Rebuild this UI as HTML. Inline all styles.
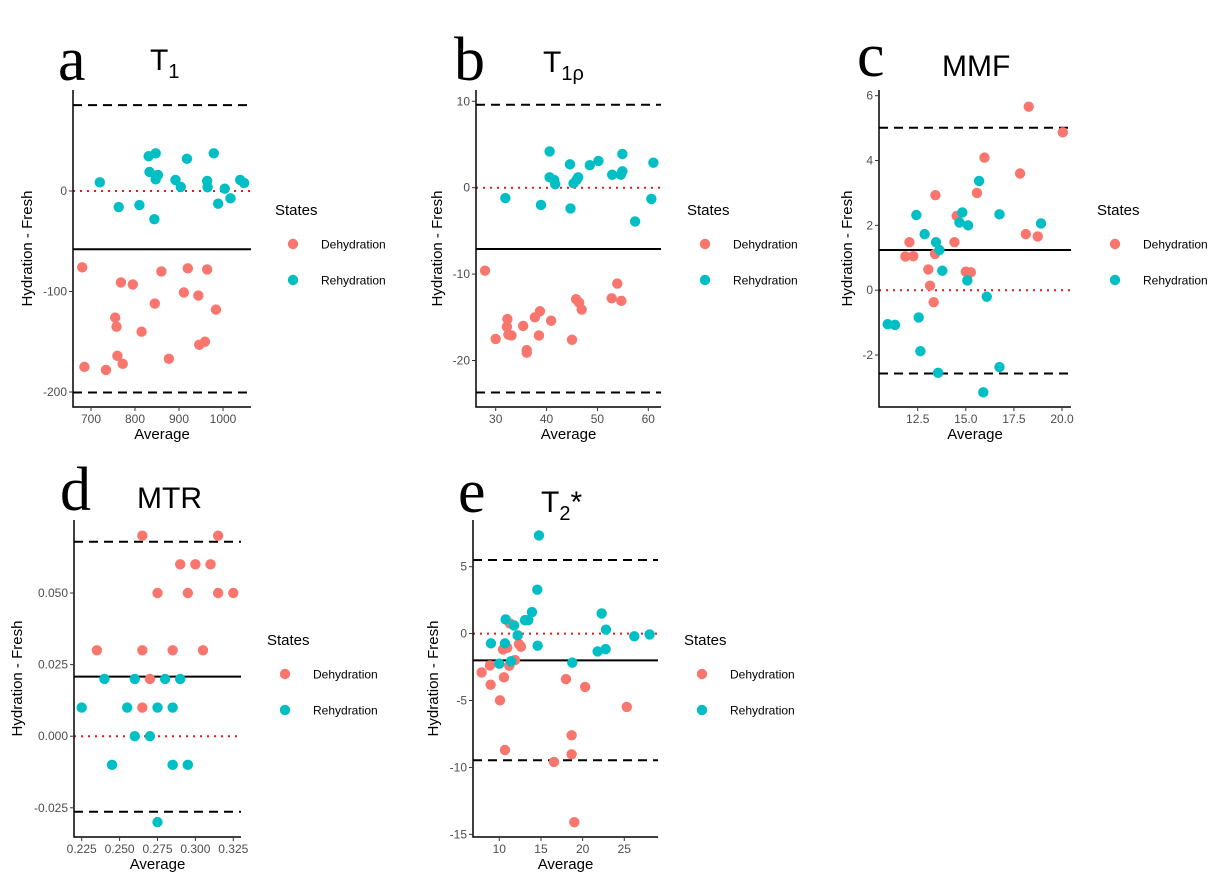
<!DOCTYPE html>
<html><head><meta charset="utf-8"><style>
body{margin:0;background:#fff;font-family:"Liberation Sans",sans-serif}
svg text{font-family:"Liberation Sans",sans-serif}
</style></head><body>
<svg id="fig" width="1231" height="886" xmlns="http://www.w3.org/2000/svg"></svg>
<script>
// ---- Panel a: T1 ----
const aDehX=[680,685,734,768,795,755,758,760,772,815,845,860,877,920,911,944,964,984,946,959];
const aDehY=[-76,-175,-178,-91,-93,-126,-135,-164,-172,-140,-112,-80,-167,-77,-101,-104,-78,-118,-153,-150];
const aRehX=[720,831,847,833,852,847,918,892,904,979,964,965,1004,1039,1048,1017,989,763,810,844];
const aRehY=[8.6,34.6,37.5,19,16,11.6,32,11,4,37.5,10,3.7,2.3,11,8,-7.3,-12.6,-16,-14,-28];
const aLines=[85.5,-58,-200.5];
const aXTicks=[700,800,900,1000];
const aYTicks=[-200,-100,0];
// ---- Panel b: T1rho ----
const bDehX=[27.9,30,32.3,32.2,32.5,33.1,35.4,36.1,36.1,37.7,38.7,38.5,40.9,45,45.8,46.4,46.9,52.8,53.9,54.7];
const bDehY=[-9.6,-17.5,-15.2,-16.1,-17.0,-17.1,-16.0,-18.8,-19.1,-15.0,-14.3,-17.1,-15.4,-17.6,-12.9,-13.3,-14.1,-12.8,-11.1,-13.1];
const bRehX=[31.9,40.6,40.6,41.5,41.7,38.9,44.6,44.7,45.3,46.2,45.9,48.5,50.2,52.9,54.6,54.9,54.9,57.4,60.6,61.0];
const bRehY=[-1.2,4.2,1.2,0.9,0.4,-2.0,2.7,-2.4,0.5,1.2,0.9,2.6,3.1,1.5,1.5,1.9,3.9,-3.9,-1.3,2.9];
const bLines=[9.6,-7.1,-23.7];
const bXTicks=[30,40,50,60];
const bYTicks=[-20,-10,0,10];
// ---- Panel c: MMF ----
const cDehX=[18.27,20.04,15.97,17.82,15.58,13.42,14.53,18.12,18.74,14.41,12.07,11.86,12.27,13.4,13.05,13.14,13.33,15.0,15.26];
const cDehY=[5.66,4.87,4.09,3.6,3.0,2.93,2.29,1.73,1.66,1.48,1.48,1.04,1.05,1.12,0.64,0.14,-0.37,0.57,0.55];
const cRehX=[10.94,11.32,12.43,12.86,13.45,13.63,13.78,12.55,12.64,13.56,14.67,14.82,15.12,15.08,15.69,16.09,15.91,16.75,16.75,18.91];
const cRehY=[-1.05,-1.07,2.32,1.73,1.48,1.24,0.6,-0.84,-1.88,-2.55,2.09,2.4,2.0,0.3,3.37,-0.2,-3.15,2.34,-2.37,2.06];
const cLines=[5.01,1.24,-2.57];
const cXTicks=[12.5,15.0,17.5,20.0];
const cYTicks=[-2,0,2,4,6];
// ---- Panel d: MTR ----
const dDehX=[0.265,0.315,0.29,0.30,0.31,0.275,0.295,0.315,0.325,0.235,0.265,0.285,0.305,0.27,0.265];
const dDehY=[0.07,0.07,0.06,0.06,0.06,0.05,0.05,0.05,0.05,0.03,0.03,0.03,0.03,0.02,0.01];
const dRehX=[0.24,0.26,0.28,0.29,0.225,0.255,0.275,0.285,0.26,0.27,0.245,0.285,0.295,0.275];
const dRehY=[0.02,0.02,0.02,0.02,0.01,0.01,0.01,0.01,0,0,-0.01,-0.01,-0.01,-0.03];
const dLines=[0.0679,0.0208,-0.0264];
const dXTicks=[0.225,0.250,0.275,0.300,0.325];
const dYTicks=[-0.025,0,0.025,0.05];
// ---- Panel e: T2* ----
const eDehX=[7.88,8.88,8.96,10.56,10.08,10.68,10.44,10.96,11.2,11.88,12.6,12.36,18.0,20.3,18.68,18.68,16.56,19.0,25.3,11.28];
const eDehY=[-2.9,-2.38,-3.82,-3.27,-4.99,-8.7,-1.18,-1.05,-2.4,-1.98,-0.98,-0.78,-3.4,-3.99,-7.6,-9.02,-9.59,-14.1,-5.48,0.76];
const eRehX=[14.76,14.56,13.92,13.48,13.08,10.76,11.76,12.2,9.0,10.68,14.6,10,11.4,18.76,22.28,22.8,22.76,21.8,26.2,28.04];
const eRehY=[7.34,3.28,1.61,1.01,1.0,1.06,0.61,-0.13,-0.73,-0.73,-0.9,-2.25,-2.07,-2.17,1.51,0.29,-1.16,-1.33,-0.2,-0.06];
const eLines=[5.5,-2.0,-9.47];
const eXTicks=[10,15,20,25];
const eYTicks=[-15,-10,-5,0,5];

const NS="http://www.w3.org/2000/svg";
const svg=document.getElementById('fig');
function el(tag,attrs,parent){const e=document.createElementNS(NS,tag);for(const k in attrs)e.setAttribute(k,attrs[k]);(parent||svg).appendChild(e);return e;}
const RED="#F8766D",CYAN="#00BFC4";
function lin(v0,p0,v1,p1){return v=>p0+(v-v0)*(p1-p0)/(v1-v0);}

function panel(cfg){
  const g=el('g',{});
  
  
  const sx=lin(cfg.xc[0],cfg.xc[1],cfg.xc[2],cfg.xc[3]);
  const sy=lin(cfg.yc[0],cfg.yc[1],cfg.yc[2],cfg.yc[3]);
  const L=cfg.box[0],T=cfg.box[1],R=cfg.box[2],B=cfg.box[3];
  const lt=el('text',{x:cfg.letter[0],y:cfg.letter[1],'font-size':62,fill:'#000'},g);
  lt.style.fontFamily='"Liberation Serif",serif';
  lt.textContent=cfg.id;
  
  
  const tt=el('text',{x:cfg.title[0],y:cfg.title[1],'font-size':30,fill:'#000'},g);
  tt.innerHTML=cfg.titleHtml;
  
  
  const zero=el('line',{x1:L,x2:R,y1:sy(0),y2:sy(0),stroke:'#e41a1c',"stroke-width":2,"stroke-dasharray":"2,5"},g);
  
  
  cfg.lines.forEach((v,i)=>{
    const ln=el('line',{x1:L,x2:R,y1:sy(v),y2:sy(v),stroke:'#000',"stroke-width":2,"stroke-dasharray":i===1?'':'9,6'},g);
    
    
  });
  cfg.dx.forEach((v,i)=>{
    const c=el('circle',{cx:sx(v),cy:sy(cfg.dy[i]),r:5.2,fill:RED},g);
    
    
  });
  cfg.rx.forEach((v,i)=>{
    const c=el('circle',{cx:sx(v),cy:sy(cfg.ry[i]),r:5.2,fill:CYAN},g);
    
    
  });
  const ax=el('path',{d:`M${L},${T}V${B}H${R}`,stroke:'#000','stroke-width':1.5,fill:'none'},g);
  
  
  cfg.xt.forEach(v=>{
    const x=sx(v);
    el('line',{x1:x,x2:x,y1:B,y2:B+4,stroke:'#333'},g);
    const t=el('text',{x:x,y:B+16,'font-size':12,fill:'#4d4d4d','text-anchor':'middle'},g);
    t.textContent=cfg.xfmt(v);
    
    
  });
  cfg.yt.forEach(v=>{
    const y=sy(v);
    el('line',{x1:L-4,x2:L,y1:y,y2:y,stroke:'#333'},g);
    const t=el('text',{x:L-6,y:y+4,'font-size':12,fill:'#4d4d4d','text-anchor':'end'},g);
    t.textContent=cfg.yfmt(v);
    
    
  });
  const xl=el('text',{x:(L+R)/2,y:B+32,'font-size':15,fill:'#000','text-anchor':'middle'},g);
  xl.textContent='Average';
  
  
  const yx=cfg.ylab,ym=(T+B)/2;
  const yl=el('text',{x:yx,y:ym,'font-size':15,fill:'#000','text-anchor':'middle',transform:`rotate(-90 ${yx} ${ym})`},g);
  yl.textContent='Hydration - Fresh';
  
  
  const lx=cfg.leg[0],ly=cfg.leg[1];
  const st=el('text',{x:lx,y:ly,'font-size':15,fill:'#000'},g);
  st.textContent='States';
  
  
  [['Dehydration',RED],['Rehydration',CYAN]].forEach((e,i)=>{
    const yy=ly+29+i*36;
    const c=el('circle',{cx:lx+18,cy:yy,r:5.2,fill:e[1]},g);
    
    
    const t=el('text',{x:lx+46,y:yy+4.5,'font-size':12,fill:'#000'},g);
    t.textContent=e[0];
    
    
  });
}
const f0=v=>String(v), f1=v=>v.toFixed(1), f3=v=>v.toFixed(3);
panel({id:'a',titleHtml:'T<tspan font-size="20" dy="8">1</tspan>',letter:[58,80],title:[150,70],
  xc:[700,91,1000,223],yc:[0,191,-200,392],box:[73,90,251,407],lines:aLines,
  dx:aDehX,dy:aDehY,rx:aRehX,ry:aRehY,xt:aXTicks,yt:aYTicks,xfmt:f0,yfmt:f0,ylab:32,leg:[275,215]});
panel({id:'b',titleHtml:'T<tspan font-size="20" dy="8">1ρ</tspan>',letter:[454,80],title:[543,72],
  xc:[30,495.7,60,648.3],yc:[0,187.7,10,101.3],box:[476,90,661,407],lines:bLines,
  dx:bDehX,dy:bDehY,rx:bRehX,ry:bRehY,xt:bXTicks,yt:bYTicks,xfmt:f0,yfmt:f0,ylab:442,leg:[687,215]});
panel({id:'c',titleHtml:'MMF',letter:[857,76],title:[942,76],
  xc:[12.5,917.7,20,1062],yc:[0,290.2,6,95.7],box:[879,90,1071,407],lines:cLines,
  dx:cDehX,dy:cDehY,rx:cRehX,ry:cRehY,xt:cXTicks,yt:cYTicks,xfmt:f1,yfmt:f0,ylab:852,leg:[1097,215]});
panel({id:'d',titleHtml:'MTR',letter:[60,510],title:[137,508],
  xc:[0.225,81.7,0.325,233.3],yc:[0,736.2,0.05,593],box:[74,520,241,837],lines:dLines,
  dx:dDehX,dy:dDehY,rx:dRehX,ry:dRehY,xt:dXTicks,yt:dYTicks,xfmt:f3,yfmt:f3,ylab:22,leg:[267,645]});
panel({id:'e',titleHtml:'T<tspan font-size="20" dy="8">2</tspan><tspan dy="-8">*</tspan>',letter:[458,512],title:[541,512],
  xc:[10,499.3,25,624.3],yc:[0,633.6,5,566.7],box:[473,520,658,837],lines:eLines,
  dx:eDehX,dy:eDehY,rx:eRehX,ry:eRehY,xt:eXTicks,yt:eYTicks,xfmt:f0,yfmt:f0,ylab:438,leg:[684,645]});
</script>
</body></html>
